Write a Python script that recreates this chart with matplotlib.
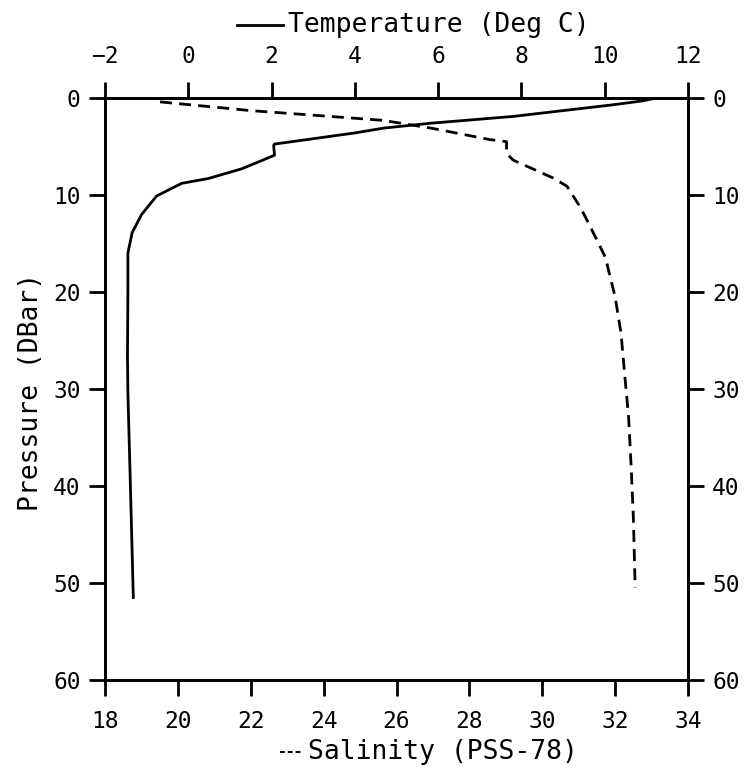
import matplotlib.pyplot as plt
from matplotlib.lines import Line2D

# temperature profile (Deg C) vs pressure (DBar)
temp_p = [0.0, 0.3, 0.7, 1.9, 2.6, 3.1, 3.6, 4.75, 4.9, 5.9, 6.6, 7.3, 8.3, 8.8, 10.1, 12.0, 13.9,
          16.0, 19.7, 26.7, 30.4, 40.0, 51.5]
temp = [11.24, 10.9, 10.2, 7.8, 5.82, 4.7, 4.0, 2.07, 2.05, 2.07, 1.68, 1.28, 0.48, -0.16, -0.76, -1.12, -1.35,
        -1.45, -1.45, -1.46, -1.45, -1.39, -1.32]

# salinity profile (PSS-78) vs pressure (DBar)
sal_p = [0.4, 1.3, 2.3, 3.1, 4.3, 4.5, 5.7, 6.4, 8.25, 9.1, 11.3, 12.9, 16.4,
         20.5, 24.2, 28.4, 32.9, 38.0, 43.2, 50.5]
sal = [19.51, 22.0, 25.62, 26.94, 28.58, 29.02, 29.02, 29.2, 30.3, 30.68, 31.05, 31.27, 31.73,
       32.0, 32.16, 32.26, 32.37, 32.44, 32.5, 32.55]

temp_ticks = [-2, 0, 2, 4, 6, 8, 10, 12]
sal_ticks = [18, 20, 22, 24, 26, 28, 30, 32, 34]
p_ticks = [0, 10, 20, 30, 40, 50, 60]

plt.rcParams['font.family'] = ['DejaVu Sans Mono', 'DejaVu Sans']
fs = 16.5
lw = 2.0

fig = plt.figure(figsize=(7.48, 7.68), dpi=100)
ax = fig.add_axes([105 / 748, 1 - 680 / 768, 583 / 748, 582 / 768])
ax2 = ax.twiny()

# salinity on bottom axis
ax.plot(sal, sal_p, color='black', lw=lw, linestyle=(0, (4.3, 2.6)))
ax.set_xlim(18, 34)
ax.set_ylim(60, 0)
ax.set_xticks(sal_ticks)
ax.set_yticks(p_ticks)
ax.tick_params(axis='both', direction='out', length=11.5, width=lw, labelsize=fs, pad=10)
ax.tick_params(axis='y', right=True, labelright=True, pad=6)

# temperature on top axis
ax2.plot(temp, temp_p, color='black', lw=lw)
ax2.set_xlim(-2, 12)
ax2.set_xticks(temp_ticks)
ax2.tick_params(axis='x', direction='out', length=11.5, width=lw, labelsize=fs, pad=10)

for a in (ax, ax2):
    for s in a.spines.values():
        s.set_linewidth(lw)

# axis titles with line-style keys
fig.text(288 / 748, 1 - 25 / 768, 'Temperature (Deg C)', fontsize=19, ha='left', va='center')
fig.add_artist(Line2D([237 / 748, 283 / 748], [1 - 25 / 768, 1 - 25 / 768], color='black', lw=lw))
fig.text(308 / 748, 1 - 752 / 768, 'Salinity (PSS-78)', fontsize=19, ha='left', va='center')
fig.add_artist(Line2D([280 / 748, 303 / 748], [1 - 752 / 768, 1 - 752 / 768], color='black', lw=1.4,
                      linestyle=(0, (2.5, 1.5))))
fig.text(31 / 748, 1 - 392 / 768, 'Pressure (DBar)', fontsize=19, rotation=90,
         ha='center', va='center')

fig.savefig('out.png', dpi=100)
